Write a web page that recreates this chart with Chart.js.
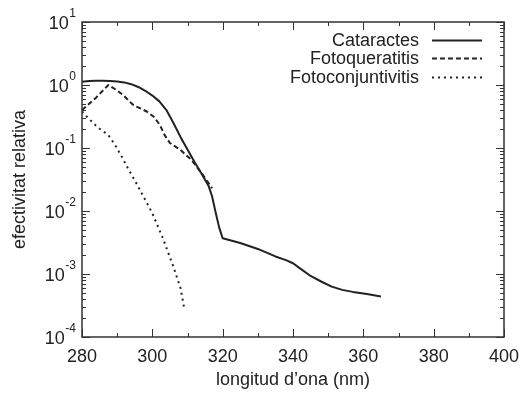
<!DOCTYPE html>
<html><head><meta charset="utf-8">
<script src="https://cdn.jsdelivr.net/npm/chart.js@4.4.0/dist/chart.umd.min.js"></script>
<style>html,body{margin:0;padding:0;background:#fff;}#wrap{width:522px;height:395px;}</style>
</head><body><div id="wrap"><canvas id="c" width="522" height="395"></canvas></div>
<script>
// ---- data ----
const cataractesX = [280,282,284,286,288,290,292,294,296,298,300,302,304,306,308,310,312,314,316,317,318,319,320,325,330,335,338,340,342,345,348,351,354,357,361,365];
const cataractesY = [1.13,1.16,1.17,1.17,1.16,1.14,1.1,1.03,0.93,0.81,0.68,0.55,0.40,0.25,0.15,0.095,0.06,0.039,0.025,0.017,0.0095,0.0055,0.0037,0.0031,0.0025,0.0019,0.00166,0.00148,0.00123,0.00093,0.00076,0.00063,0.00056,0.00052,0.00048,0.00044];
const queratitisX = [280,284,287.5,290,291.7,294.6,298.4,300.5,302.2,303.5,305,308,311,314,317];
const queratitisY = [0.4,0.63,1.0,0.82,0.69,0.48,0.38,0.31,0.23,0.16,0.12,0.093,0.066,0.04,0.023];
const conjuntivitisX = [280,282,284.6,287.5,289.4,291.3,293.2,295.1,297,300,303,306,308,309];
const conjuntivitisY = [0.38,0.29,0.21,0.16,0.112,0.073,0.046,0.03,0.019,0.0092,0.0037,0.0013,0.0006,0.0003];
const seriesLabels = ['Cataractes','Fotoqueratitis','Fotoconjuntivitis'];
const xTickValues = [280,300,320,340,360,380,400];
const xMinorValues = [290,310,330,350,370,390];
const yTickExponents = [1,0,-1,-2,-3,-4];
const xTitle = 'longitud d\u2019ona (nm)';
const yTitle = 'efectivitat relativa';

const INK = '#222';
const FONT = '"Liberation Sans", Arial, Helvetica, sans-serif';

function pts(xs, ys){ return xs.map((x,i)=>({x:x, y:ys[i]})); }

const framePlugin = {
  id: 'frame',
  afterDraw(chart){
    const ctx = chart.ctx, a = chart.chartArea;
    const xs = chart.scales.x, ys = chart.scales.y;
    ctx.save();
    ctx.strokeStyle = '#333';
    ctx.lineWidth = 1.5;
    ctx.strokeRect(a.left, a.top, a.right - a.left, a.bottom - a.top);
    ctx.lineWidth = 1;
    ctx.beginPath();
    xTickValues.forEach(v=>{
      const p = Math.round(xs.getPixelForValue(v)) + 0.5;
      ctx.moveTo(p, a.bottom); ctx.lineTo(p, a.bottom - 8);
      ctx.moveTo(p, a.top); ctx.lineTo(p, a.top + 8);
    });
    xMinorValues.forEach(v=>{
      const p = Math.round(xs.getPixelForValue(v)) + 0.5;
      ctx.moveTo(p, a.bottom); ctx.lineTo(p, a.bottom - 4);
      ctx.moveTo(p, a.top); ctx.lineTo(p, a.top + 4);
    });
    yTickExponents.forEach(e=>{
      const p = Math.round(ys.getPixelForValue(Math.pow(10,e))) + 0.5;
      ctx.moveTo(a.left, p); ctx.lineTo(a.left + 8, p);
      ctx.moveTo(a.right, p); ctx.lineTo(a.right - 8, p);
      if (e > -4) {
        for (let m = 2; m <= 9; m++) {
          const q = Math.round(ys.getPixelForValue(m * Math.pow(10, e - 1))) + 0.5;
          ctx.moveTo(a.left, q); ctx.lineTo(a.left + 4, q);
          ctx.moveTo(a.right, q); ctx.lineTo(a.right - 4, q);
        }
      }
    });
    ctx.stroke();

    // y tick labels 10^e
    ctx.fillStyle = INK;
    ctx.textAlign = 'right';
    yTickExponents.forEach(e=>{
      const p = ys.getPixelForValue(Math.pow(10,e));
      const exp = String(e);
      ctx.font = '12px ' + FONT;
      const ew = ctx.measureText(exp).width;
      ctx.textBaseline = 'alphabetic';
      ctx.fillText(exp, 76, p - 5);
      ctx.font = '18px ' + FONT;
      ctx.textBaseline = 'middle';
      ctx.fillText('10', 76 - ew - 0.5, p + 2);
    });

    // legend
    ctx.font = '18px ' + FONT;
    ctx.textBaseline = 'middle';
    chart.data.datasets.forEach((ds,i)=>{
      const y = 40 + i * 18.3;
      ctx.fillStyle = INK;
      ctx.textAlign = 'right';
      ctx.fillText(ds.label, 419, y + 1);
      ctx.strokeStyle = ds.borderColor;
      ctx.lineWidth = ds.borderWidth;
      ctx.setLineDash(ds.borderDash || []);
      ctx.beginPath();
      ctx.moveTo(432, Math.round(y) + 0.5); ctx.lineTo(482, Math.round(y) + 0.5);
      ctx.stroke();
      ctx.setLineDash([]);
    });
    ctx.restore();
  }
};

new Chart(document.getElementById('c'), {
  type: 'line',
  data: {
    datasets: [
      {label: seriesLabels[0], data: pts(cataractesX, cataractesY), borderColor: INK, borderWidth: 2, borderDash: []},
      {label: seriesLabels[1], data: pts(queratitisX, queratitisY), borderColor: INK, borderWidth: 2, borderDash: [5,3]},
      {label: seriesLabels[2], data: pts(conjuntivitisX, conjuntivitisY), borderColor: INK, borderWidth: 2, borderDash: [2,4]}
    ]
  },
  options: {
    responsive: false,
    animation: false,
    devicePixelRatio: 1,
    layout: {padding: {top: 22, right: 18, left: 0, bottom: 0}},
    elements: {point: {radius: 0}, line: {tension: 0, fill: false, borderJoinStyle: 'round'}},
    plugins: {legend: {display: false}, tooltip: {enabled: false}},
    scales: {
      x: {
        type: 'linear', min: 280, max: 400,
        afterBuildTicks: s => { s.ticks = xTickValues.map(v=>({value:v})); },
        afterFit: s => { s.height = 58; s.paddingLeft = 0; s.paddingRight = 0; },
        grid: {display: false, drawTicks: false},
        border: {display: false},
        ticks: {color: INK, font: {family: FONT, size: 18}, padding: 9, maxRotation: 0, autoSkip: false},
        title: {display: true, text: xTitle, color: INK, font: {family: FONT, size: 18}, padding: {top: 0, bottom: 4}}
      },
      y: {
        type: 'logarithmic', min: 1e-4, max: 10,
        afterFit: s => { s.width = 82; s.paddingTop = 0; s.paddingBottom = 0; },
        grid: {display: false, drawTicks: false},
        border: {display: false},
        ticks: {display: false},
        title: {display: true, text: yTitle, color: INK, font: {family: FONT, size: 18}, padding: {top: 9, bottom: 0}}
      }
    }
  },
  plugins: [framePlugin]
});
</script>
</body></html>
